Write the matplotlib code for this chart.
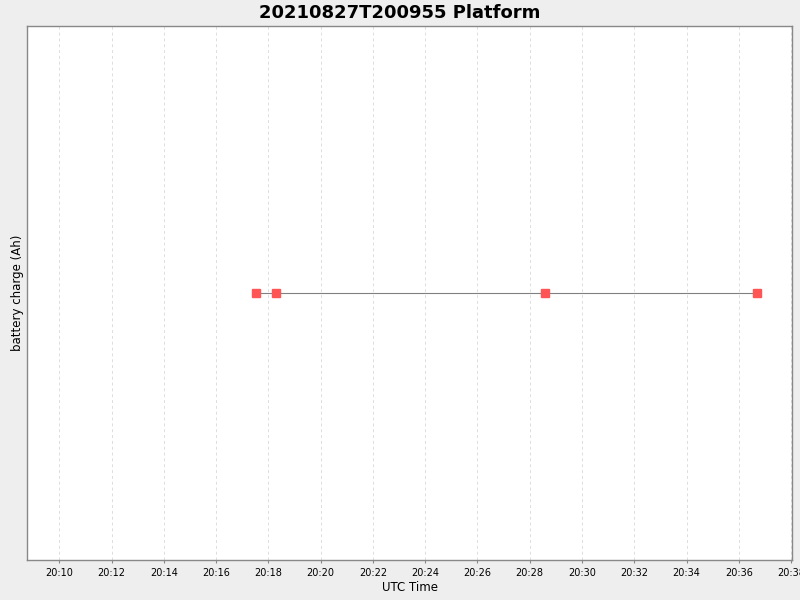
import pandas as pd
import matplotlib
matplotlib.use("Agg")
import matplotlib.pyplot as plt
import matplotlib.dates as mdates

times = ["2021-08-27 20:17:32", "2021-08-27 20:18:18", "2021-08-27 20:28:35", "2021-08-27 20:36:41"]
charge = [0.0, 0.0, 0.0, 0.0]

df = pd.DataFrame({"time": pd.to_datetime(times), "charge": charge})

fig = plt.figure(figsize=(8, 6), dpi=100, facecolor="#eeeeee")
ax = fig.add_axes([27 / 800, 40 / 600, 765 / 800, 534 / 600])
ax.set_facecolor("white")

ax.plot(df["time"], df["charge"], color="#808080", linewidth=0.8, zorder=2)
ax.plot(df["time"], df["charge"], linestyle="none", marker="s", markersize=5.5,
        color="#ff5555", zorder=3)

ax.set_xlim(pd.Timestamp("2021-08-27 20:08:46"), pd.Timestamp("2021-08-27 20:38:02"))
ax.set_ylim(-1, 1)
ax.xaxis.set_major_locator(mdates.MinuteLocator(byminute=range(0, 60, 2)))
ax.xaxis.set_major_formatter(mdates.DateFormatter("%H:%M"))
ax.tick_params(axis="x", labelsize=7, length=2, color="#888888", pad=4)
ax.set_yticks([])
ax.grid(axis="x", color="#dddddd", linestyle=(0, (3, 3)), linewidth=0.7)

for s in ax.spines.values():
    s.set_color("#888888")
    s.set_linewidth(1.0)

ax.set_xlabel("UTC Time", fontsize=8.5, labelpad=2)
ax.set_ylabel("battery charge (Ah)", fontsize=8.5, labelpad=2)
fig.suptitle("20210827T200955 Platform", fontsize=13, fontweight="bold", y=0.993)

fig.savefig("out.png", dpi=100, facecolor=fig.get_facecolor())
